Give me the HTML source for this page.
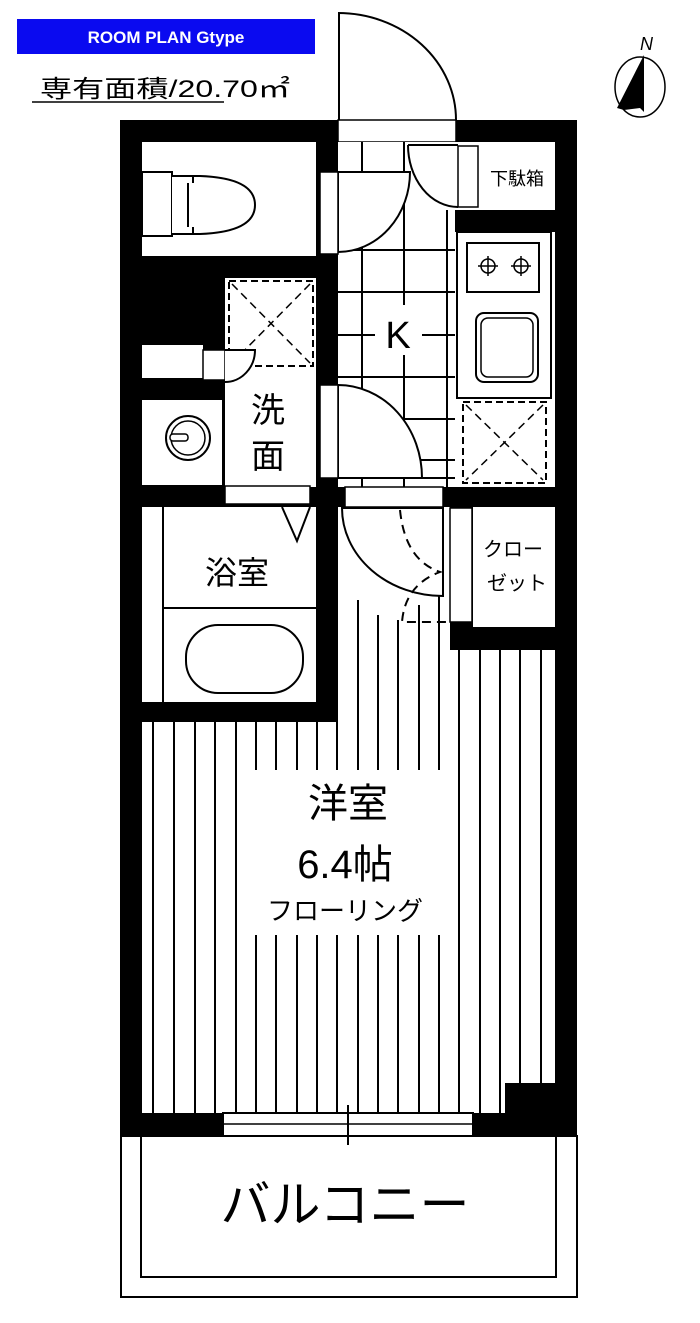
<!DOCTYPE html>
<html><head><meta charset="utf-8"><style>
html,body{margin:0;padding:0;background:#fff}
svg{display:block}
text{font-family:"Liberation Sans","Noto Sans CJK JP",sans-serif;fill:#000}
</style></head><body>
<svg width="700" height="1323" viewBox="0 0 700 1323" xmlns="http://www.w3.org/2000/svg">
<!-- header -->
<rect x="17" y="19" width="298" height="35" fill="#0a0af0"/>
<text x="166" y="43" font-size="17" text-anchor="middle" style="fill:#fff" font-weight="bold">ROOM PLAN  Gtype</text>
<text x="40" y="97" font-size="24" textLength="250" lengthAdjust="spacingAndGlyphs">専有面積/20.70㎡</text>
<line x1="32" y1="102" x2="224" y2="102" stroke="#000" stroke-width="1.5"/>
<!-- compass -->
<ellipse cx="640" cy="87" rx="25" ry="30" fill="none" stroke="#000" stroke-width="1.5"/>
<polygon points="644,55 617,108 624,110 640,108 644,112" fill="#000"/>
<text x="640" y="50" font-size="18" font-style="italic">N</text>

<!-- outer walls -->
<rect x="120" y="120" width="457" height="1016" fill="#000"/>
<!-- balcony -->
<rect x="121" y="1136" width="456" height="161" fill="#fff" stroke="#000" stroke-width="2"/>
<rect x="141" y="1136" width="415" height="141" fill="#fff" stroke="#000" stroke-width="2"/>
<text x="345" y="1222" font-size="50" text-anchor="middle">バルコニー</text>

<!-- entrance door -->
<path d="M338,13 A118,107 0 0 1 456,120" fill="#fff" stroke="#000" stroke-width="2"/>
<rect x="338" y="13" width="2" height="107" fill="#000"/>
<rect x="338" y="120" width="118" height="22" fill="#fff" stroke="#000" stroke-width="1.5"/>

<!-- toilet room -->
<rect x="142" y="142" width="174" height="114" fill="#fff"/>
<rect x="142" y="172" width="30" height="64" fill="#fff" stroke="#000" stroke-width="2"/>
<path d="M172,176 L200,176 Q255,178 255,205 Q255,232 200,234 L172,234" fill="#fff" stroke="#000" stroke-width="2"/>
<path d="M193,176 L193,183 M193,227 L193,234 M188,183 L188,227" stroke="#000" stroke-width="2" fill="none"/>

<!-- corridor/kitchen area -->
<rect x="338" y="142" width="117" height="345" fill="#fff"/>
<g stroke="#000" stroke-width="2">
<line x1="362" y1="142" x2="362" y2="487"/><line x1="404" y1="142" x2="404" y2="305"/><line x1="404" y1="355" x2="404" y2="487"/><line x1="447" y1="210" x2="447" y2="487"/>
<line x1="338" y1="250" x2="455" y2="250"/><line x1="338" y1="292" x2="455" y2="292"/>
<line x1="338" y1="335" x2="375" y2="335"/><line x1="422" y1="335" x2="455" y2="335"/>
<line x1="338" y1="377" x2="455" y2="377"/><line x1="404" y1="419" x2="455" y2="419"/>
<line x1="420" y1="460" x2="455" y2="460"/><line x1="338" y1="478" x2="455" y2="478"/>
<line x1="338" y1="185" x2="408" y2="185"/>
</g>
<text x="398" y="348" font-size="38" text-anchor="middle">K</text>
<!-- toilet door -->
<path d="M338,172 A72,82 0 0 1 338,254" fill="none"/>
<path d="M410,172 A72,80 0 0 1 338,252 L338,172 Z" fill="#fff" stroke="#000" stroke-width="2"/>
<rect x="320" y="172" width="18" height="82" fill="#fff" stroke="#000" stroke-width="1.5"/>
<!-- shoe box -->
<rect x="480" y="142" width="75" height="68" fill="#fff"/>
<rect x="458" y="210" width="97" height="22" fill="#000"/>
<rect x="455" y="142" width="25" height="68" fill="#fff"/>
<rect x="458" y="146" width="20" height="61" fill="#fff" stroke="#000" stroke-width="1.5"/>
<path d="M408,145 A50,62 0 0 0 458,207" fill="none" stroke="#000" stroke-width="2"/>
<line x1="408" y1="145" x2="458" y2="145" stroke="#000" stroke-width="2"/>
<text x="517" y="185" font-size="18" text-anchor="middle">下駄箱</text>
<!-- kitchen counter -->
<rect x="455" y="232" width="100" height="255" fill="#fff"/>
<rect x="457" y="232" width="94" height="166" fill="#fff" stroke="#000" stroke-width="2"/>
<rect x="467" y="243" width="72" height="49" fill="#fff" stroke="#000" stroke-width="2"/>
<g stroke="#000" stroke-width="1.5" fill="none">
<circle cx="488" cy="266" r="7"/><circle cx="521" cy="266" r="7"/>
<line x1="478" y1="266" x2="498" y2="266"/><line x1="488" y1="256" x2="488" y2="276"/>
<line x1="511" y1="266" x2="531" y2="266"/><line x1="521" y1="256" x2="521" y2="276"/>
</g>
<rect x="476" y="313" width="62" height="69" rx="8" fill="#fff" stroke="#000" stroke-width="2"/>
<rect x="481" y="318" width="52" height="59" rx="7" fill="none" stroke="#000" stroke-width="1.5"/>
<rect x="463" y="402" width="83" height="81" fill="none" stroke="#000" stroke-width="2" stroke-dasharray="7,4"/>
<path d="M466,405 L543,480 M543,405 L466,480" stroke="#000" stroke-width="1.5" stroke-dasharray="8,5"/>

<!-- left middle -->
<rect x="225" y="278" width="91" height="209" fill="#fff"/>
<rect x="229" y="281" width="84" height="85" fill="none" stroke="#000" stroke-width="2" stroke-dasharray="7,4"/>
<path d="M232,284 L310,363 M310,284 L232,363" stroke="#000" stroke-width="1.5" stroke-dasharray="8,5"/>
<rect x="142" y="345" width="61" height="33" fill="#fff"/>
<rect x="203" y="350" width="22" height="30" fill="#fff" stroke="#000" stroke-width="1.5"/>
<path d="M225,350 L255,350 A30,32 0 0 1 225,382" fill="#fff" stroke="#000" stroke-width="2"/>
<text x="268" y="422" font-size="34" text-anchor="middle">洗</text>
<text x="268" y="468" font-size="34" text-anchor="middle">面</text>
<rect x="142" y="400" width="80" height="85" fill="#fff"/>
<circle cx="188" cy="438" r="22" fill="none" stroke="#000" stroke-width="2"/>
<circle cx="188" cy="438" r="17" fill="none" stroke="#000" stroke-width="1.5"/>
<rect x="170" y="434" width="18" height="7" rx="3" fill="#fff" stroke="#000" stroke-width="1.5"/>
<!-- 洗面 door -->
<path d="M338,385 A84,93 0 0 1 422,478 L338,478 Z" fill="#fff" stroke="#000" stroke-width="2"/>
<rect x="320" y="385" width="18" height="93" fill="#fff" stroke="#000" stroke-width="1.5"/>
<rect x="225" y="486" width="85" height="18" fill="#fff" stroke="#000" stroke-width="1.5"/>

<!-- bath -->
<rect x="142" y="507" width="174" height="195" fill="#fff"/>
<line x1="163" y1="507" x2="163" y2="702" stroke="#000" stroke-width="2"/>
<line x1="163" y1="608" x2="316" y2="608" stroke="#000" stroke-width="2"/>
<rect x="186" y="625" width="117" height="68" rx="32" fill="none" stroke="#000" stroke-width="2"/>
<path d="M282,507 L297,541 L310,507" fill="none" stroke="#000" stroke-width="2"/>
<text x="237" y="584" font-size="32" text-anchor="middle">浴室</text>

<!-- main room -->
<rect x="142" y="722" width="413" height="391" fill="#fff"/>
<rect x="338" y="507" width="112" height="215" fill="#fff"/>
<rect x="450" y="650" width="105" height="72" fill="#fff"/>
<g stroke="#000" stroke-width="2">
<line x1="153" y1="722" x2="153" y2="1113"/><line x1="174" y1="722" x2="174" y2="1113"/><line x1="195" y1="722" x2="195" y2="1113"/><line x1="215" y1="722" x2="215" y2="1113"/><line x1="236" y1="722" x2="236" y2="1113"/>
<line x1="256" y1="722" x2="256" y2="770"/><line x1="256" y1="935" x2="256" y2="1113"/>
<line x1="276" y1="722" x2="276" y2="770"/><line x1="276" y1="935" x2="276" y2="1113"/>
<line x1="297" y1="722" x2="297" y2="770"/><line x1="297" y1="935" x2="297" y2="1113"/>
<line x1="317" y1="722" x2="317" y2="770"/><line x1="317" y1="935" x2="317" y2="1113"/>
<line x1="337" y1="722" x2="337" y2="770"/><line x1="337" y1="935" x2="337" y2="1113"/>
<line x1="358" y1="600" x2="358" y2="770"/><line x1="358" y1="935" x2="358" y2="1113"/>
<line x1="378" y1="615" x2="378" y2="770"/><line x1="378" y1="935" x2="378" y2="1113"/>
<line x1="398" y1="620" x2="398" y2="770"/><line x1="398" y1="935" x2="398" y2="1113"/>
<line x1="419" y1="605" x2="419" y2="770"/><line x1="419" y1="935" x2="419" y2="1113"/>
<line x1="439" y1="595" x2="439" y2="770"/><line x1="439" y1="935" x2="439" y2="1113"/>
<line x1="459" y1="650" x2="459" y2="1113"/><line x1="480" y1="650" x2="480" y2="1113"/><line x1="500" y1="650" x2="500" y2="1113"/>
<line x1="520" y1="650" x2="520" y2="1083"/><line x1="541" y1="650" x2="541" y2="1083"/>
</g>
<rect x="505" y="1083" width="50" height="30" fill="#000"/>
<text x="348" y="817" font-size="40" text-anchor="middle">洋室</text>
<text x="345" y="878" font-size="40" text-anchor="middle">6.4帖</text>
<text x="345" y="920" font-size="26" text-anchor="middle">フローリング</text>
<!-- room door -->
<rect x="345" y="487" width="98" height="20" fill="#fff" stroke="#000" stroke-width="1.5"/>
<path d="M342,508 A101,88 0 0 0 443,596 L443,508 Z" fill="#fff" stroke="#000" stroke-width="2"/>
<path d="M400,510 Q405,560 440,572 Q405,585 402,622 L450,622" fill="none" stroke="#000" stroke-width="2" stroke-dasharray="9,6"/>
<!-- closet -->
<rect x="473" y="507" width="82" height="120" fill="#fff"/>
<rect x="450" y="508" width="22" height="114" fill="#fff" stroke="#000" stroke-width="1.5"/>
<rect x="453" y="622" width="20" height="28" fill="#000"/>
<text x="513" y="556" font-size="20" text-anchor="middle">クロー</text>
<text x="517" y="590" font-size="20" text-anchor="middle">ゼット</text>
<!-- window -->
<rect x="223" y="1113" width="250" height="23" fill="#fff" stroke="#000" stroke-width="2"/>
<line x1="223" y1="1124" x2="473" y2="1124" stroke="#000" stroke-width="1.5"/>
<line x1="348" y1="1105" x2="348" y2="1145" stroke="#000" stroke-width="2"/>
</svg>
</body></html>
